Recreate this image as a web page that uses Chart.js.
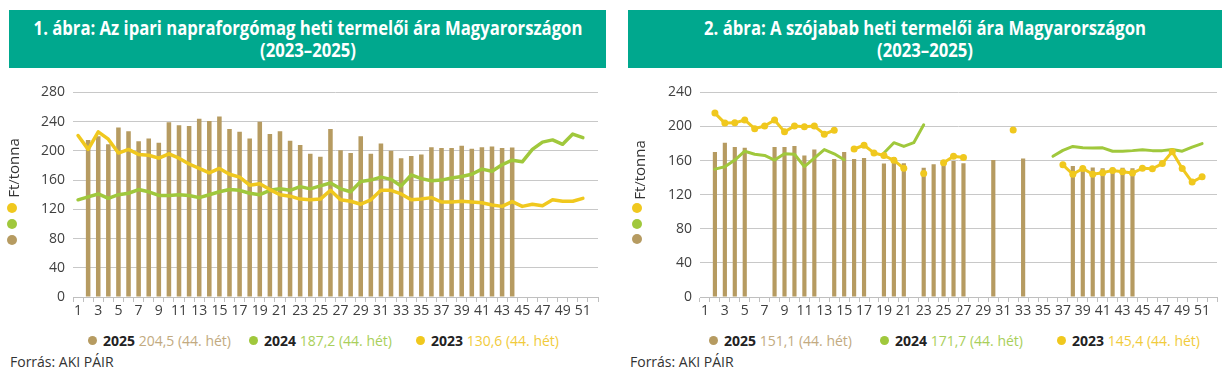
<!DOCTYPE html>
<html lang="hu">
<head>
<meta charset="utf-8">
<script src="https://cdn.jsdelivr.net/npm/chart.js@4.4.1/dist/chart.umd.min.js"></script>
<style>
	body { margin: 0; width: 1232px; height: 386px; background: #fff; font-family: "Open Sans", sans-serif; position: relative; overflow: hidden; color: #333; }
	.head { position: absolute; top: 10px; height: 58px; background: #00a88e; color: #fff; font-weight: bold; font-size: 19.5px; line-height: 22px; }
	.head div { position: absolute; left: 50%; white-space: nowrap; transform: translateX(-50%) scaleX(0.855); }
	canvas { position: absolute; }
	.ytitle { position: absolute; width: 90px; height: 20px; line-height: 20px; font-size: 15px; text-align: center; transform: rotate(-90deg); color: #333; }
	.dot { position: absolute; width: 10px; height: 10px; border-radius: 50%; }
	.leg { position: absolute; top: 331px; height: 20px; line-height: 20px; font-size: 14px; white-space: nowrap; }
	.leg i { display: inline-block; width: 9px; height: 9px; border-radius: 50%; margin-right: 6px; vertical-align: 1px; }
	.leg b { color: #222; }
	.src { position: absolute; top: 352px; font-size: 14px; line-height: 20px; color: #333; }
</style>
</head>
<body>

<div class="head" style="left:9px; width:597px;">
	<div style="top:7px;">1. ábra: Az ipari napraforgómag heti termelői ára Magyarországon</div>
	<div style="top:29px;">(2023–2025)</div>
</div>
<div class="head" style="left:628px; width:594px;">
	<div style="top:7px;">2. ábra: A szójabab heti termelői ára Magyarországon</div>
	<div style="top:29px;">(2023–2025)</div>
</div>

<canvas id="napraforgo" width="606" height="246" style="left:0; top:76px;"></canvas>
<canvas id="szoja" width="603" height="246" style="left:622px; top:76px;"></canvas>

<div class="ytitle" style="left:-32px; top:158px;">Ft/tonna</div>
<div class="dot" style="left:7px; top:203px; background:#f0c81e;"></div>
<div class="dot" style="left:7px; top:219px; background:#a0c83c;"></div>
<div class="dot" style="left:7px; top:235px; background:#b69b61;"></div>

<div class="ytitle" style="left:594px; top:160px;">Ft/tonna</div>
<div class="dot" style="left:632px; top:203px; background:#f0c81e;"></div>
<div class="dot" style="left:632px; top:219px; background:#a0c83c;"></div>
<div class="dot" style="left:632px; top:234px; background:#b69b61;"></div>

<div class="leg" style="left:88px;"><i style="background:#b69b61"></i><b>2025</b> <span style="color:#c2aa80">204,5 (44. hét)</span></div>
<div class="leg" style="left:249px;"><i style="background:#a0c83c"></i><b>2024</b> <span style="color:#a9cf5a">187,2 (44. hét)</span></div>
<div class="leg" style="left:416px;"><i style="background:#f0c81e"></i><b>2023</b> <span style="color:#f1cb3b">130,6 (44. hét)</span></div>

<div class="leg" style="left:709px;"><i style="background:#b69b61"></i><b>2025</b> <span style="color:#c2aa80">151,1 (44. hét)</span></div>
<div class="leg" style="left:880px;"><i style="background:#a0c83c"></i><b>2024</b> <span style="color:#a9cf5a">171,7 (44. hét)</span></div>
<div class="leg" style="left:1057px;"><i style="background:#f0c81e"></i><b>2023</b> <span style="color:#f1cb3b">145,4 (44. hét)</span></div>

<div class="src" style="left:10px;">Forrás: AKI PÁIR</div>
<div class="src" style="left:630px;">Forrás: AKI PÁIR</div>

<script>
// hetek 1-52
const weeks = [];
for (let w = 1; w <= 52; w++) weeks.push(String(w));

// 1. ábra – napraforgó (Ft/tonna, ezer)
const sun2025 = [null, 215, 220, 209, 232, 227, 213, 217, 211, 239, 235, 234, 244, 241, 247, 230, 226, 217, 240, 223,
	227, 214, 208, 196, 192, 230, 201, 197, 220, 196, 210, 200, 190, 193, 195, 205, 204, 204, 207, 203,
	205, 206, 204, 204.5, null, null, null, null, null, null, null, null];
const sun2024 = [133, 137, 141, 135, 140, 142, 147, 144, 139, 139, 140, 139, 136, 140, 144, 147, 146, 142, 140, 146,
	148, 146, 151, 148, 152, 156, 148, 144, 158, 160, 164, 161, 152, 167, 162, 159, 160, 163, 165, 168,
	175, 172, 181, 187.2, 185, 202, 212, 215, 209, 223, 218, null];
const sun2023 = [221, 202, 226, 216, 197, 202, 195, 194, 190, 196, 190, 182, 176, 170, 176, 168, 164, 153, 155, 147,
	140, 138, 134, 133, 134, 146, 133, 131, 127, 133, 146, 146, 141, 133, 134, 136, 130, 130, 131, 130,
	129, 126, 124, 130.6, 124, 127, 125, 133, 131, 131, 135, null];

// 2. ábra – szójabab
const soy2025 = [null, 170, 181, 176, 175, null, null, 176, 176, 177, 166, 173, null, 162, 170, 162, 163, null, 156.5, 164,
	157, null, 151.5, 155.7, 158.7, 159.5, 157, null, null, 160.6, null, null, 162.5, null, null, null, null, 153.8, 150.8, 152,
	151, 151.5, 151.5, 151.1, null, null, null, null, null, null, null, null];
const soy2024 = [null, 150, 152.7, 160.6, 171, 167.5, 166, 160.6, 168, 167.5, 153, 163, 173, 168, 161, null, null, null, 169, 181,
	176.6, 181, 202, null, null, null, null, null, null, null, null, null, null, null, null, 165, 172, 176.6, 175, 174.7,
	175, 171, 171, 171.7, 172.8, 171.7, 171.7, 173, 171, 175.8, 180, null];
const soy2023 = [null, 215.7, 204, 204.3, 207.7, 197.5, 200.5, 207.7, 193.7, 200.5, 199.8, 200.5, 191, 195.6, null, 173.6, 178, 169, 166, 160.3,
	151, null, 145, null, 157.6, 165, 163.7, null, null, null, null, 196, null, null, null, null, 155, 144, 150.8, 144,
	145.8, 148.5, 147, 145.4, 151, 150.4, 156.5, 170.5, 150.8, 134.8, 141, null];

const sunTicks = [0, 40, 80, 120, 160, 200, 240, 280];
const soyTicks = [0, 40, 80, 120, 160, 200, 240];

const BARNA = '#b69b61';
const ZOLD = '#a0c83c';
const SARGA = '#f0c81e';

Chart.defaults.font.family = '"Open Sans", sans-serif';
Chart.defaults.font.size = 14;
Chart.defaults.color = '#404040';

function rajzol(id, bars, green, yellow, yTicks, opts) {
	const ctx = document.getElementById(id);
	new Chart(ctx, {
		type: 'bar',
		data: {
			labels: weeks,
			datasets: [
				{
					type: 'line',
					label: '2023',
					data: yellow,
					borderColor: SARGA,
					backgroundColor: SARGA,
					borderWidth: opts.lineW,
					pointRadius: opts.yellowPts,
					pointBorderWidth: 0,
					pointBackgroundColor: SARGA,
					tension: 0,
					borderJoinStyle: 'round',
					borderCapStyle: 'round',
					order: 1
				},
				{
					type: 'line',
					label: '2024',
					data: green,
					borderColor: ZOLD,
					backgroundColor: ZOLD,
					borderWidth: opts.lineW,
					pointRadius: 0,
					tension: 0,
					borderJoinStyle: 'round',
					borderCapStyle: 'round',
					order: 2
				},
				{
					label: '2025',
					data: bars,
					backgroundColor: BARNA,
					barPercentage: opts.barPct,
					categoryPercentage: 1,
					order: 3
				}
			]
		},
		options: {
			responsive: false,
			animation: false,
			devicePixelRatio: 1,
			layout: { padding: { top: 11, right: 8, left: 0, bottom: 0 } },
			plugins: { legend: { display: false }, tooltip: { enabled: false } },
			scales: {
				x: {
					grid: { drawOnChartArea: false, drawTicks: true, tickLength: 5, color: '#bfbfbf', offset: true },
					border: { display: true, color: '#bfbfbf' },
					ticks: {
						autoSkip: false,
						maxRotation: 0,
						padding: 1,
						callback: function(v, i) { return i % 2 === 0 ? weeks[i] : ''; }
					},
					afterFit: function(s) { s.height = 25; }
				},
				y: {
					min: 0,
					max: yTicks[yTicks.length - 1],
					grid: { color: '#c8c8c8', drawTicks: false },
					border: { display: false },
					afterBuildTicks: function(s) { s.ticks = yTicks.map(v => ({ value: v })); },
					ticks: { padding: 8 },
					afterFit: function(s) { s.width = opts.yW; }
				}
			}
		}
	});
}

rajzol('napraforgo', sun2025, sun2024, sun2023, sunTicks, { lineW: 3.5, yellowPts: 0, barPct: 0.45, yW: 73 });
rajzol('szoja', soy2025, soy2024, soy2023, soyTicks, { lineW: 3, yellowPts: 3.5, barPct: 0.42, yW: 78 });
</script>
</body>
</html>
